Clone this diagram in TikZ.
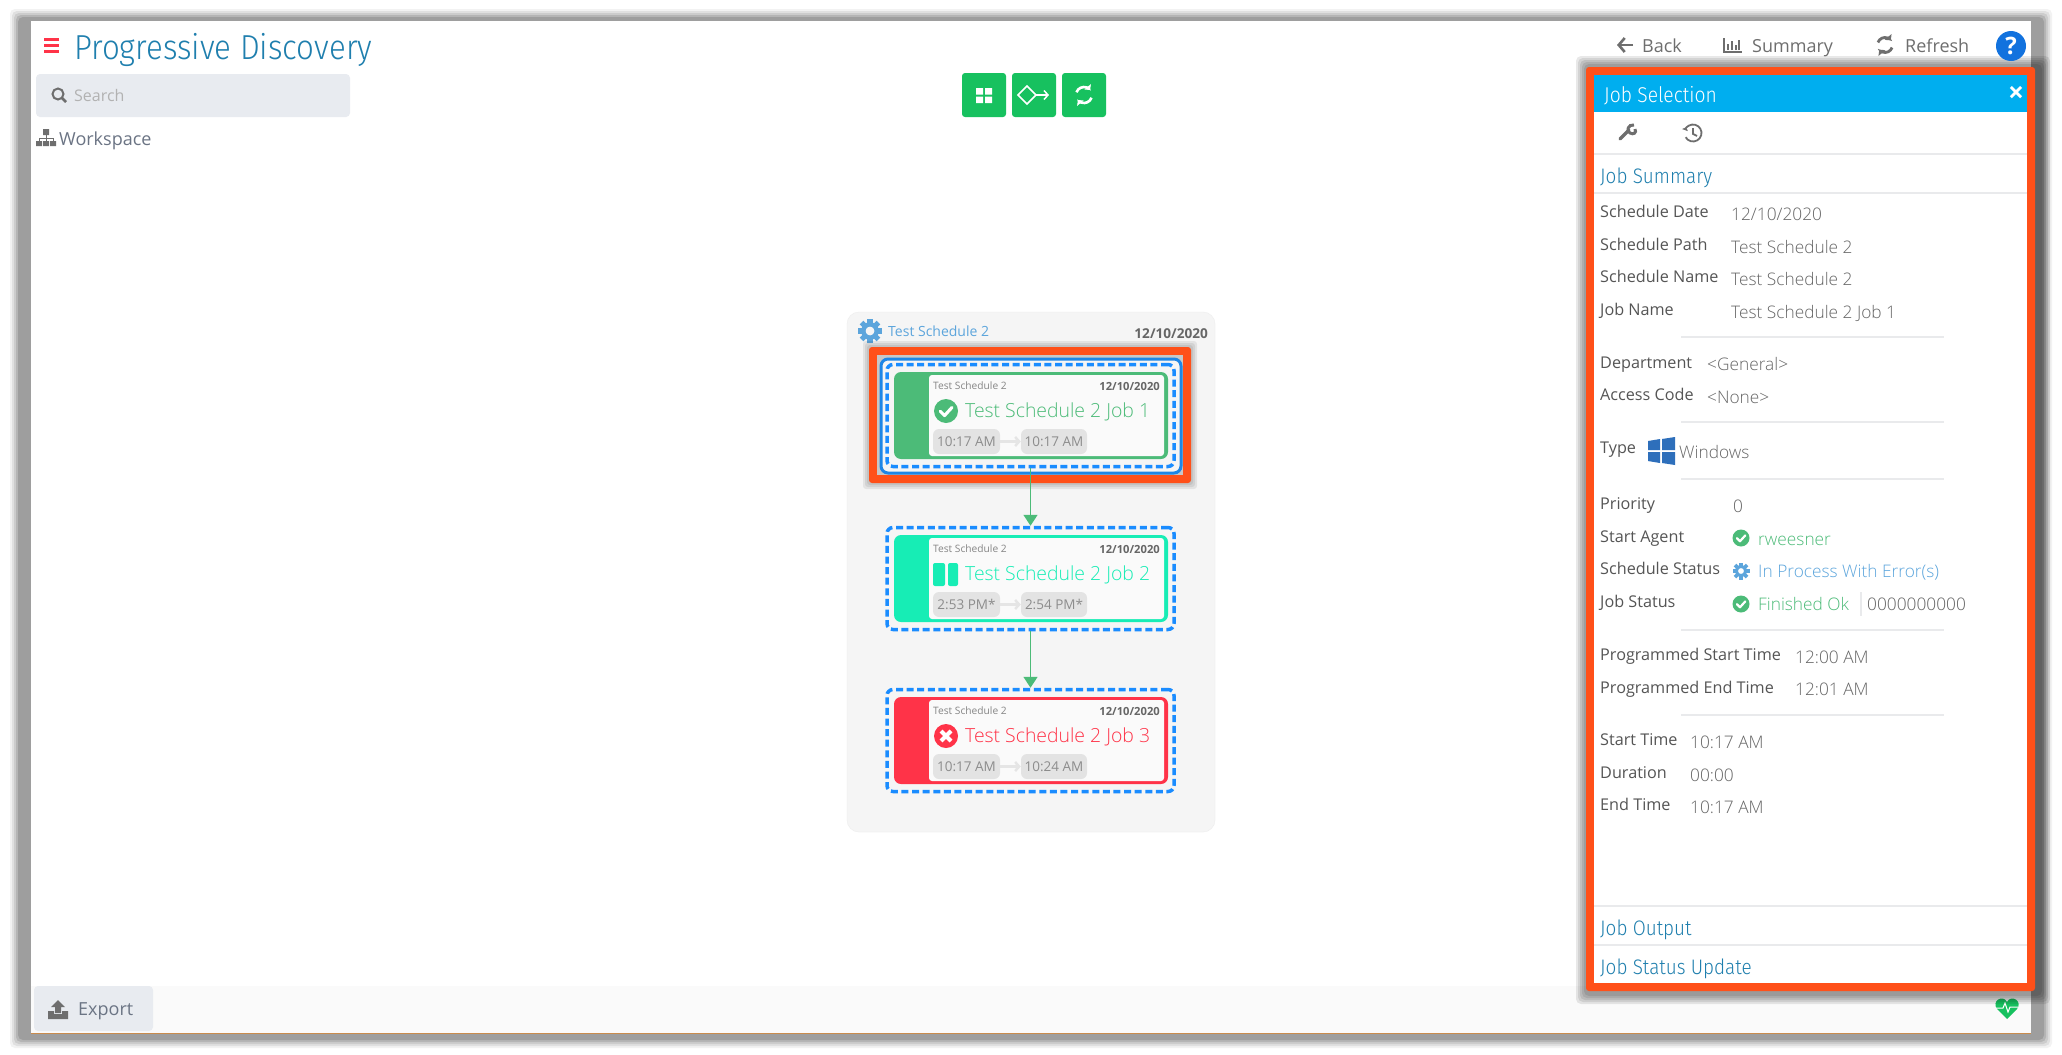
\documentclass[tikz,border=0pt]{standalone}
\usepackage{fontspec}
\setmainfont{Open Sans}
\newfontfamily\barfont[FakeStretch=0.9,UprightFont=* Light]{Fira Sans}
\newfontfamily\lightfont{Open Sans Light}
\usetikzlibrary{arrows.meta,calc}

\definecolor{headblue}{HTML}{1F7FAE}
\definecolor{labgrey}{HTML}{555555}
\definecolor{valgrey}{HTML}{666666}
\definecolor{toolgrey}{HTML}{6E6E6E}
\definecolor{boxgrey}{HTML}{E8EBF0}
\definecolor{linegrey}{HTML}{E9EAEC}
\definecolor{selorange}{HTML}{FF5019}
\definecolor{selblue}{HTML}{1E86E6}
\definecolor{dashblue}{HTML}{1A8CFF}
\definecolor{titlebar}{HTML}{00AEEF}
\definecolor{btngreen}{HTML}{17C15F}
\definecolor{okgreen}{HTML}{4CBB78}
\definecolor{pausecyan}{HTML}{17EDB5}
\definecolor{failred}{HTML}{FF3348}
\definecolor{gearblue}{HTML}{5CA5DC}
\definecolor{pillgrey}{HTML}{E3E3E3}
\definecolor{exportgrey}{HTML}{6B7484}
\definecolor{winblue}{HTML}{2E6FBB}
\definecolor{helpblue}{HTML}{1272DE}

\newcommand{\fsz}[1]{\fontsize{#1}{#1}\selectfont}

\tikzset{
    txt/.style={anchor=mid west, inner sep=0pt},
    lab/.style={txt, yshift=-3pt, text=labgrey, font=\fsz{16.2}},
    val/.style={txt, yshift=-3.4pt, text=valgrey, font=\lightfont\fsz{17.3}},
    head/.style={txt, yshift=-4.8pt, text=headblue, font=\barfont\fsz{21}},
    tool/.style={txt, yshift=-3.7pt, text=toolgrey, font=\fsz{18}},
    sepline/.style={linegrey, line width=1.5pt},
    greenbtn/.style={fill=btngreen, rounded corners=3pt},
    dashbox/.style={draw=dashblue, line width=3.5pt, dash pattern=on 7pt off 3.6pt, rounded corners=6pt,
        minimum width=287pt, minimum height=102pt, inner sep=0pt},
    jobarrow/.style={okgreen, line width=1.6pt, -{Triangle[length=11pt,width=14pt]}},
    pill/.style={fill=pillgrey, rounded corners=6pt, inner sep=0pt, minimum height=25pt, text=black!45, font=\fsz{13.5}},
    pillarrow/.style={black!10, line width=2.5pt, -{Straight Barb[length=4pt,width=9pt]}},
}

% Small icons, all centred on the given point
\newcommand{\checkicon}[4]{%
    \fill[#4] (#1,#2) circle (#3);
    \draw[white, line width=.26*#3, line cap=round, line join=round]
        ($(#1,#2)+(-.48*#3,.02*#3)$) -- ($(#1,#2)+(-.12*#3,.38*#3)$) -- ($(#1,#2)+(.5*#3,-.3*#3)$);
}
\newcommand{\gearicon}[4]{%
    \foreach \a in {0,45,...,315}
        \draw[#4, line width=.42*#3] (#1,#2) ++(\a:.6*#3) -- ++(\a:.4*#3);
    \draw[#4, line width=.36*#3] (#1,#2) circle (.55*#3);
}
\newcommand{\refreshicon}[5]{%
    \draw[#4, line width=#5, -{Triangle[length=1.5*#5,width=3.2*#5]}] (#1,#2) ++(200:#3) arc[start angle=200, end angle=320, radius=#3];
    \draw[#4, line width=#5, -{Triangle[length=1.5*#5,width=3.2*#5]}] (#1,#2) ++(20:#3) arc[start angle=20, end angle=140, radius=#3];
}
% One job card: name, top, colour, job title, start, end
\newcommand{\jobcard}[6]{%
    \node (dash#1) [dashbox] at (1030.5,#2+43.5) {};
    \fill[#3, rounded corners=7pt] (894,#2) rectangle (1168,#2+87);
    \fill[black!2, rounded corners=3pt] (929,#2+3) rectangle (1164,#2+84);
    \node (sched#1) [txt, yshift=-1.3pt, text=black!48, font=\fsz{10.2}] at (933,#2+14) {Test Schedule 2};
    \node (date#1) [txt, anchor=mid east, yshift=-1.5pt, text=black!60, font=\fsz{11.2}\bfseries] at (1160,#2+14) {12/10/2020};
    \node (title#1) [txt, yshift=-3.8pt, text=#3, font=\lightfont\fsz{19.4}] at (965,#2+39) {#4};
    \node (from#1) [pill, minimum width=67pt] at (966.5,#2+69.5) {#5};
    \node (to#1) [pill, minimum width=66pt] at (1054,#2+69.5) {#6};
    \draw[pillarrow] (from#1) -- (to#1);
}

\begin{document}
\begin{tikzpicture}[x=1pt,y=-1pt]
    \useasboundingbox (0,0) rectangle (2062,1055);
    \fill[white] (0,0) rectangle (2062,1055);

    % Window shadow
    \foreach \d/\c in {8/5,6/12,4/20,2/29,0/38}
        \fill[black!\c, rounded corners=5pt] (18-\d,17-\d) rectangle (2044+\d,1040+\d);
    \fill[white] (31,21) rectangle (2031,1033);

    % Bottom bar
    \fill[black!2] (31,986) rectangle (2031,1033);
    \draw[black!30!orange!70, line width=1pt] (31,1033) -- (2031,1033);
    \fill[boxgrey, rounded corners=4pt] (34,986) rectangle (153,1031);
    \fill[toolgrey] (48,1011) -- (54,1011) -- (54,1014) -- (62,1014) -- (62,1011) -- (68,1011) -- (68,1019) -- (48,1019) -- cycle;
    \fill[toolgrey] (58,1000) -- (65,1007) -- (61,1007) -- (61,1013) -- (55,1013) -- (55,1007) -- (51,1007) -- cycle;
    \node (export) [tool, text=exportgrey] at (78,1009) {Export};
    \fill[btngreen] (2007,1019) -- (1997,1009) .. controls (1991,1001) and (2003,994) .. (2007,1002)
        .. controls (2011,994) and (2023,1001) .. (2017,1009) -- cycle;
    \draw[white, line width=1pt] (1996,1008) -- (2003,1008) -- (2005,1003) -- (2008,1012) -- (2010,1007) -- (2018,1007);

    % Top left
    \foreach \y in {39.5,45.5,51.5}
        \fill[failred] (44,\y-1.2) rectangle (59,\y+1.2);
    \node (pagetitle) [txt, yshift=-8.7pt, text=headblue, font=\barfont\fsz{34.7}] at (74,48) {Progressive Discovery};
    \fill[boxgrey, rounded corners=4pt] (36,74) rectangle (350,117);
    \draw[toolgrey, line width=2pt] (58,94) circle (5.5);
    \draw[toolgrey, line width=2.6pt] (62,98) -- (66,102);
    \node (search) [txt, yshift=-3pt, text=black!30, font=\fsz{16}] at (74,96) {Search};
    \fill[toolgrey] (43,129) rectangle (49,135) (36,141) rectangle (42,146) (43,141) rectangle (49,146) (50,141) rectangle (56,146);
    \draw[toolgrey, line width=1pt] (46,135) -- (46,141) (39,141) -- (39,138) -- (53,138) -- (53,141);
    \node (workspace) [tool, text=exportgrey] at (59,139) {Workspace};

    % Toolbar buttons
    \fill[greenbtn] (962,73) rectangle (1006,117);
    \fill[greenbtn] (1012,73) rectangle (1056,117);
    \fill[greenbtn] (1062,73) rectangle (1106,117);
    \fill[white] (976,88) rectangle (983,94.5) (985,88) rectangle (992,94.5) (976,96.5) rectangle (983,103) (985,96.5) rectangle (992,103);
    \draw[white, line width=1.5pt] (1018,95) -- (1027,86) -- (1036,95) -- (1027,104) -- cycle;
    \draw[white, line width=1.5pt, -{Straight Barb[length=4pt,width=9pt]}] (1036,95) -- (1049,95);
    \refreshicon{1084}{95}{8}{white}{2.6pt}

    % Schedule panel
    \fill[black!4, rounded corners=12pt] (847,312) rectangle (1215,832);
    \draw[black!7, rounded corners=12pt] (847,312) rectangle (1215,832);
    \gearicon{870}{331}{12}{gearblue}
    \node (schedname) [txt, yshift=-2.5pt, text=gearblue, font=\fsz{14}] at (888,331) {Test Schedule 2};
    \node (scheddate) [txt, anchor=mid east, yshift=-2.5pt, text=black!60, font=\fsz{13.6}\bfseries] at (1208,333) {12/10/2020};

    % Selection around job 1
    \foreach \d in {6,4,2}
        \fill[black, opacity=.07, rounded corners=3pt] (869-\d,347-\d) rectangle (1191+\d,483+\d);
    \fill[selorange, rounded corners=3pt] (869,347) rectangle (1191,483);
    \fill[black!22] (877,355) rectangle (1183,475);
    \draw[selblue, fill=black!4, line width=3pt, rounded corners=7pt] (881,359) rectangle (1181,473);

    % Job cards
    \jobcard{one}{372}{okgreen}{Test Schedule 2 Job 1}{10:17 AM}{10:17 AM}
    \jobcard{two}{535}{pausecyan}{Test Schedule 2 Job 2}{2:53 PM*}{2:54 PM*}
    \jobcard{three}{697}{failred}{Test Schedule 2 Job 3}{10:17 AM}{10:24 AM}

    % Status icons on the cards
    \checkicon{946}{411}{12}{okgreen}
    \fill[pausecyan, rounded corners=2pt] (933,563) rectangle (945,586) (948,563) rectangle (958,586);
    \fill[failred] (946,736) circle (12);
    \draw[white, line width=4pt] (941,731) -- (951,741) (951,731) -- (941,741);

    % Arrows between jobs
    \draw[jobarrow] (dashone.south) -- (dashtwo.north);
    \draw[jobarrow] (dashtwo.south) -- (dashthree.north);

    % Job selection panel
    \foreach \d in {8,6,4,2,0}
        \fill[black, opacity=.09, rounded corners=5pt] (1584-\d,64-\d) rectangle (2042+\d,996+\d);
    \fill[selorange, rounded corners=3pt] (1586,67) rectangle (2035,991);
    \fill[white] (1594,75) rectangle (2027,983);
    \fill[titlebar] (1594,75) rectangle (2027,112);
    \node (jobsel) [txt, yshift=-4.8pt, text=white, font=\barfont\fsz{21.4}] at (1604,95) {Job Selection};
    \node (closex) [txt, anchor=center, text=white, font=\fsz{28}\bfseries] at (2016,94) {×};

    % Top right
    \draw[toolgrey, line width=2.6pt, -{Straight Barb[length=6pt,width=14pt]}] (1633,45) -- (1617,45);
    \node (back) [tool] at (1642,46) {Back};
    \draw[toolgrey, line width=1.3pt] (1724,38) -- (1724,52) -- (1742,52);
    \foreach \x/\h in {1728/6,1732/9,1736/5,1739/10}
        \draw[toolgrey, line width=1.6pt] (\x,50) -- (\x,50-\h);
    \node (summary) [tool] at (1752,46) {Summary};
    \refreshicon{1885}{45}{7.5}{toolgrey}{2.8pt}
    \node (refresh) [tool] at (1905,46) {Refresh};
    \fill[helpblue] (2011,46) circle (15);
    \node (help) [txt, anchor=center, text=white, font=\fsz{24}\bfseries] at (2011,46) {?};

    % Panel tool icons
    \draw[toolgrey, line width=3.4pt, line cap=round] (1620,139) -- (1629,130);
    \draw[toolgrey, line width=3pt] (1634,125) .. controls (1628,124) and (1626,131) .. (1630,133) .. controls (1633,135) and (1637,133) .. (1635,129);
    \draw[toolgrey, line width=1.8pt, -{Triangle[length=3pt,width=6pt,reversed]}] (1693,133) ++(510:8.5) arc[start angle=510, end angle=200, radius=8.5];
    \draw[toolgrey, line width=1.8pt] (1693,128) -- (1693,134) -- (1697,136);

    % Accordion headers
    \draw[sepline] (1594,154) -- (2027,154);
    \node (jobsum) [head] at (1600,176) {Job Summary};
    \draw[sepline] (1594,193) -- (2027,193);
    \draw[sepline] (1594,906) -- (2027,906);
    \node (joboutput) [head] at (1600,928) {Job Output};
    \draw[sepline] (1594,945) -- (2027,945);
    \node (jobupdate) [head] at (1600,967) {Job Status Update};

    % Field labels
    \foreach \n/\y/\t in {a/212/Schedule Date,b/245/Schedule Path,c/277/Schedule Name,d/310/Job Name,
        e/363/Department,f/395/Access Code,g/448/Type,h/504/Priority,i/537/Start Agent,
        j/569/Schedule Status,k/602/Job Status,l/655/Programmed Start Time,m/688/Programmed End Time,
        n/740/Start Time,o/773/Duration,p/805/End Time}
        \node (lab\n) [lab] at (1600,\y) {\t};

    % Field values
    \node (vala) [val] at (1731,214) {12/10/2020};
    \foreach \n/\x/\y/\t in {b/1731/247/Test Schedule 2,c/1731/279/Test Schedule 2,d/1731/312/Test Schedule 2 Job 1,
        e/1707/364/<General>,f/1707/397/<None>,g/1679/452/Windows,h/1733/506/0,
        l/1795/657/12:00 AM,m/1795/689/12:01 AM,n/1690/742/10:17 AM,o/1690/775/00:00,p/1690/807/10:17 AM}
        \node (val\n) [val] at (\x,\y) {\t};

    % Separators
    \foreach \y in {337,422,479,630,715}
        \draw[sepline] (1681,\y) -- (1944,\y);

    % Windows logo
    \fill[winblue] (1648,441) -- (1660,439) -- (1660,450) -- (1648,450) -- cycle
        (1662,439) -- (1675,437) -- (1675,450) -- (1662,450) -- cycle
        (1648,452) -- (1660,452) -- (1660,463) -- (1648,461) -- cycle
        (1662,452) -- (1675,452) -- (1675,465) -- (1662,463) -- cycle;

    % Status rows
    \checkicon{1741}{538}{8.5}{okgreen}
    \node (agent) [val, text=okgreen] at (1758,539) {rweesner};
    \gearicon{1741}{571}{8.5}{gearblue}
    \node (status) [val, text=gearblue] at (1758,571) {In Process With Error(s)};
    \checkicon{1741}{604}{8.5}{okgreen}
    \node (finished) [val, text=okgreen] at (1758,604) {Finished Ok};
    \draw[sepline] (1861,592) -- (1861,616);
    \node (code) [val] at (1867,604) {0000000000};
\end{tikzpicture}
\end{document}
